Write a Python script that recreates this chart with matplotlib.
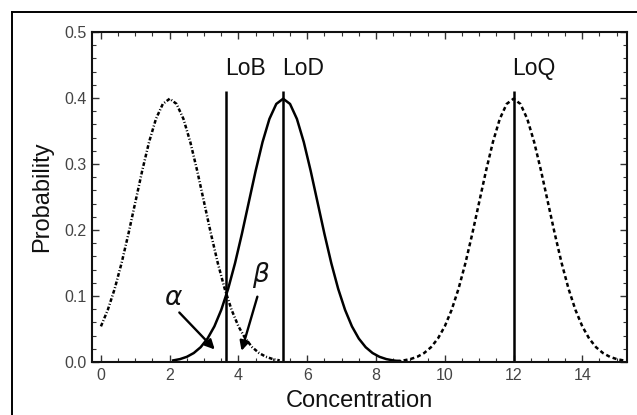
import matplotlib
matplotlib.use("Agg")
import matplotlib.pyplot as plt
from matplotlib.ticker import MultipleLocator, FormatStrFormatter
from matplotlib.lines import Line2D

# ---- data ----
blank_x = [0.0, 0.2, 0.4, 0.6, 0.8, 1.0, 1.2, 1.4, 1.6, 1.8, 2.0, 2.2, 2.4, 2.6,
           2.8, 3.0, 3.2, 3.4, 3.6, 3.8, 4.0, 4.2, 4.4, 4.6, 4.8, 5.0, 5.2]
blank_y = [0.0540, 0.0790, 0.1109, 0.1497, 0.1942, 0.2420, 0.2897, 0.3332, 0.3683,
           0.3910, 0.3989, 0.3910, 0.3683, 0.3332, 0.2897, 0.2420, 0.1942, 0.1497,
           0.1109, 0.0790, 0.0540, 0.0355, 0.0224, 0.0136, 0.0079, 0.0044, 0.0024]

low_x = [2.1, 2.3, 2.5, 2.7, 2.9, 3.1, 3.3, 3.5, 3.7, 3.9, 4.1, 4.3, 4.5, 4.7, 4.9,
         5.1, 5.3, 5.5, 5.7, 5.9, 6.1, 6.3, 6.5, 6.7, 6.9, 7.1, 7.3, 7.5, 7.7, 7.9,
         8.1, 8.3, 8.5, 8.7]
low_y = [0.0024, 0.0044, 0.0079, 0.0136, 0.0224, 0.0355, 0.0540, 0.0790, 0.1109,
         0.1497, 0.1942, 0.2420, 0.2897, 0.3332, 0.3683, 0.3910, 0.3989, 0.3910,
         0.3683, 0.3332, 0.2897, 0.2420, 0.1942, 0.1497, 0.1109, 0.0790, 0.0540,
         0.0355, 0.0224, 0.0136, 0.0079, 0.0044, 0.0024, 0.0012]

quant_x = [8.6, 8.8, 9.0, 9.2, 9.4, 9.6, 9.8, 10.0, 10.2, 10.4, 10.6, 10.8, 11.0,
           11.2, 11.4, 11.6, 11.8, 12.0, 12.2, 12.4, 12.6, 12.8, 13.0, 13.2, 13.4,
           13.6, 13.8, 14.0, 14.2, 14.4, 14.6, 14.8, 15.0, 15.2]
quant_y = [0.0012, 0.0024, 0.0044, 0.0079, 0.0136, 0.0224, 0.0355, 0.0540, 0.0790,
           0.1109, 0.1497, 0.1942, 0.2420, 0.2897, 0.3332, 0.3683, 0.3910, 0.3989,
           0.3910, 0.3683, 0.3332, 0.2897, 0.2420, 0.1942, 0.1497, 0.1109, 0.0790,
           0.0540, 0.0355, 0.0224, 0.0136, 0.0079, 0.0044, 0.0024]

limit_names = ["LoB", "LoD", "LoQ"]
limit_x = [3.65, 5.3, 12.0]
limit_top = 0.41

plt.rcParams['font.family'] = ['Liberation Sans', 'DejaVu Sans']

fig = plt.figure(figsize=(6.37, 4.15), dpi=100)
ax = fig.add_axes([0.1444, 0.1277, 0.8399, 0.7952])

LW = 1.8
ax.plot(blank_x, blank_y, color='k', lw=LW, linestyle=(0, (1.5, 0.8, 0.4, 0.8)))
ax.plot(low_x, low_y, color='k', lw=LW, linestyle='-')
ax.plot(quant_x, quant_y, color='k', lw=LW, linestyle=(0, (1.6, 1.2)))

for name, xv in zip(limit_names, limit_x):
    ax.vlines(xv, 0, limit_top, color='k', lw=LW)
    ax.text(xv - 0.03, 0.445, name, ha='left', va='center', fontsize=16.5, color='#111111')

# alpha / beta annotations
ax.annotate('', xy=(3.31, 0.019), xytext=(2.28, 0.075),
            arrowprops=dict(arrowstyle='-|>', color='k', lw=1.7, mutation_scale=14,
                            shrinkA=0, shrinkB=0))
ax.text(2.1, 0.097, r'$\alpha$', ha='center', va='center', fontsize=19, color='#111111')
ax.annotate('', xy=(4.09, 0.017), xytext=(4.55, 0.099),
            arrowprops=dict(arrowstyle='-|>', color='k', lw=1.7, mutation_scale=14,
                            shrinkA=0, shrinkB=0))
ax.text(4.67, 0.132, r'$\beta$', ha='center', va='center', fontsize=19, color='#111111')

ax.set_xlim(-0.26, 15.3)
ax.set_ylim(0, 0.5)
ax.xaxis.set_major_locator(MultipleLocator(2))
ax.xaxis.set_minor_locator(MultipleLocator(0.5))
ax.yaxis.set_major_locator(MultipleLocator(0.1))
ax.yaxis.set_minor_locator(MultipleLocator(0.02))
ax.yaxis.set_major_formatter(FormatStrFormatter('%.1f'))

ax.tick_params(which='both', direction='in', top=True, right=True, colors='#333333',
               labelcolor='#444444', labelsize=11.5)
ax.tick_params(which='major', length=5, width=1.0, pad=4)
ax.tick_params(which='minor', length=3, width=0.8)
for s in ax.spines.values():
    s.set_linewidth(1.5)
    s.set_color('#111111')

ax.set_xlabel('Concentration', fontsize=17, labelpad=5, color='#111111')
ax.set_ylabel('Probability', fontsize=17, labelpad=8, color='#111111')

# outer frame (top and left edges visible in reference)
fig.add_artist(Line2D([11.5 / 637, 1.0], [1 - 12 / 415, 1 - 12 / 415],
                      transform=fig.transFigure, color='k', lw=1.4))
fig.add_artist(Line2D([11.5 / 637, 11.5 / 637], [0.0, 1 - 12 / 415],
                      transform=fig.transFigure, color='k', lw=1.4))

fig.savefig('out.png', dpi=100)
